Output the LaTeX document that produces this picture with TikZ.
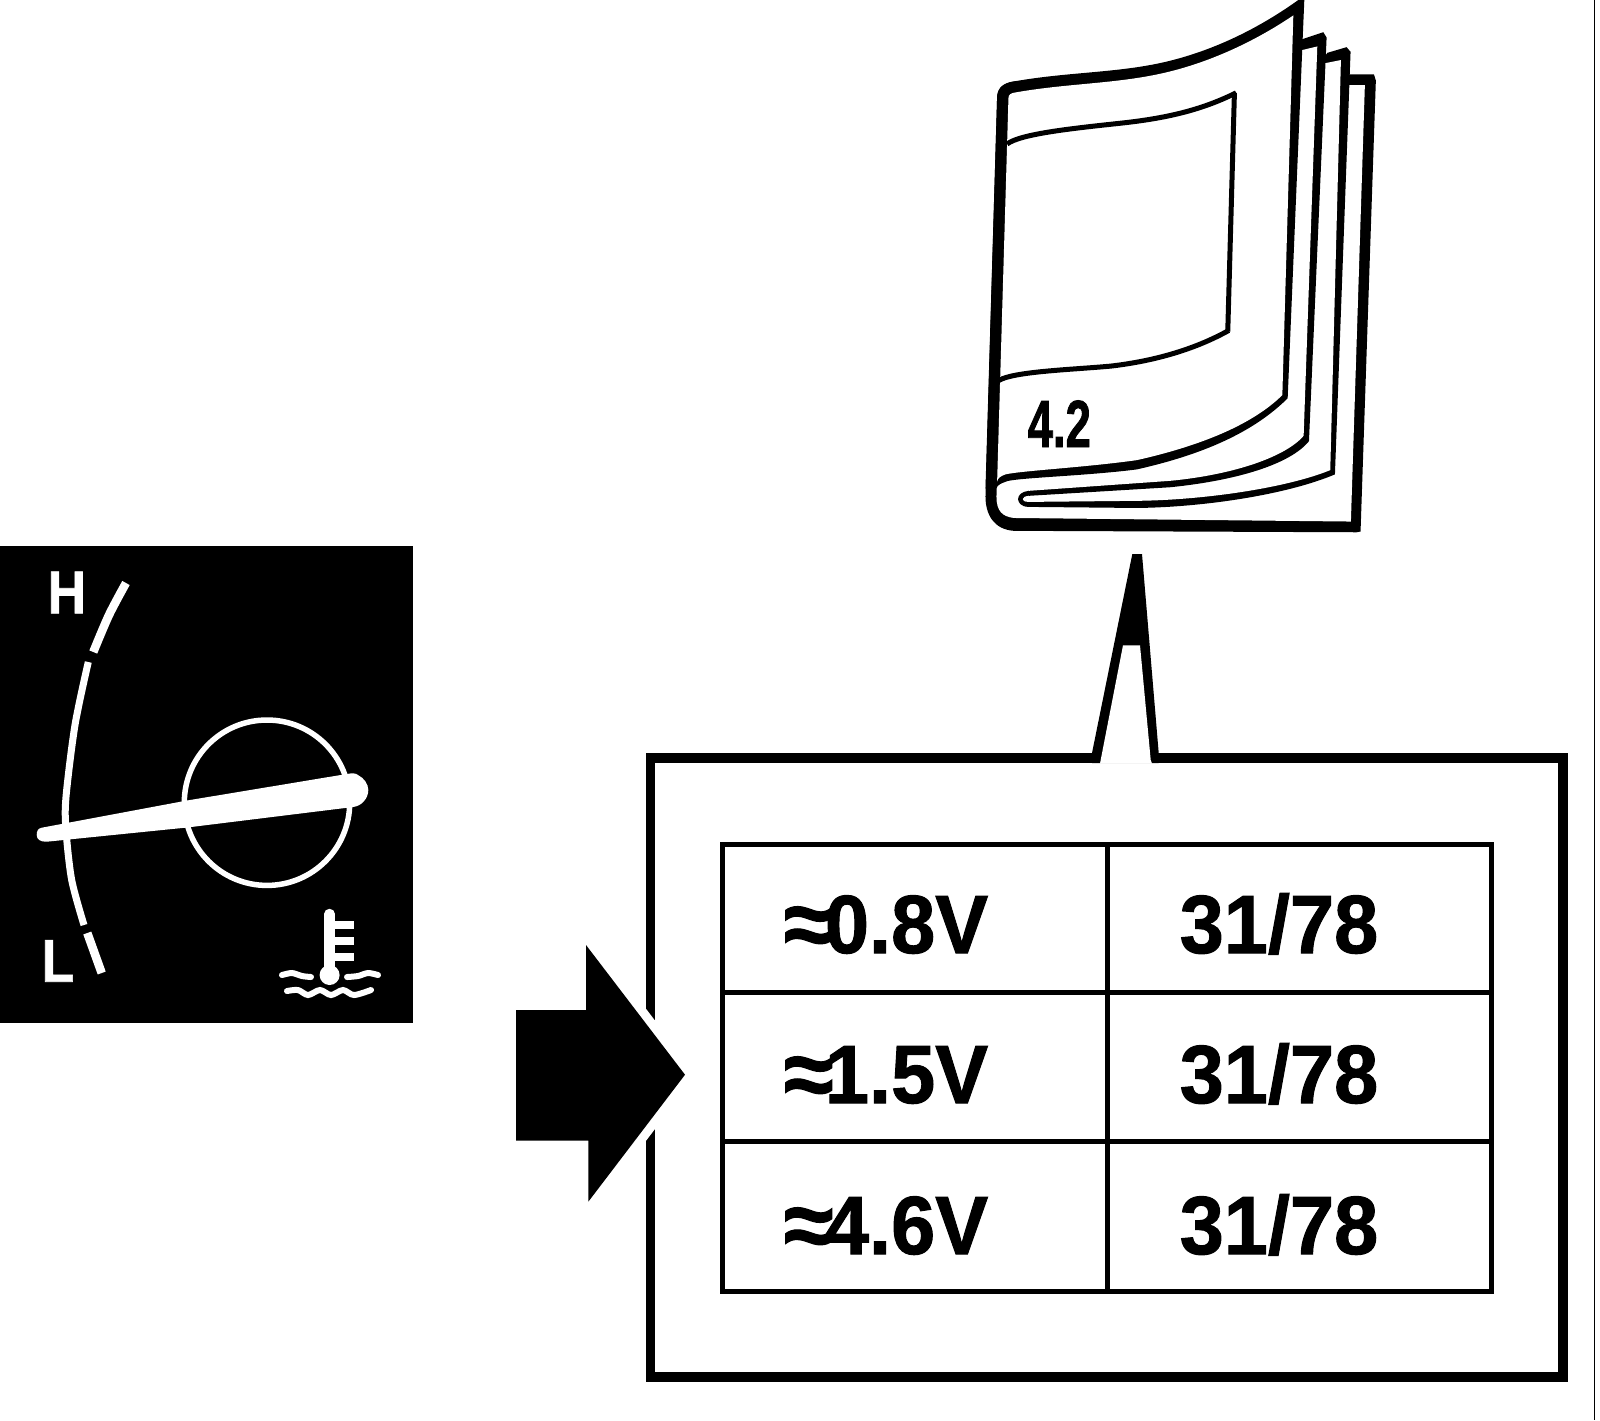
\documentclass[tikz,border=0pt]{standalone}
\usepackage{fontspec}
\setmainfont{Liberation Sans}
\newfontfamily\cellFont[FakeStretch=0.96,FakeBold=1.2,UprightFont=* Bold]{Liberation Sans}
\newfontfamily\gaugeFont[FakeStretch=0.88,FakeBold=1,UprightFont=* Bold]{Liberation Sans}
\newfontfamily\bookFont[FakeStretch=0.68,FakeBold=1.2,UprightFont=* Bold]{Liberation Sans}
\usetikzlibrary{calc}
\newcommand{\approxSign}{\lower1pt\hbox{\fontsize{27}{28}\selectfont ≈}\kern-2.5pt}
\tikzset{
	cell_text/.style={anchor=base west,inner sep=0pt,font=\cellFont\fontsize{23.5}{28}\selectfont},
	gauge_text/.style={anchor=base west,inner sep=0pt,white,font=\gaugeFont\fontsize{17.2}{20}\selectfont},
	table_line/.style={line width=0.05cm},
	dial_line/.style={white,line width=0.085cm},
	wave_line/.style={white,line width=0.06cm,line cap=round}
}

\begin{document}
\begin{tikzpicture}[x=0.01cm,y=-0.01cm]
	\newcommand{\tableLeft}{722.5}
	\newcommand{\tableRight}{1491.7}
	\newcommand{\tableMiddle}{1107}
	\useasboundingbox (0,0) rectangle (1600,1420);
	\draw[line width=0.015cm] (1594.5,0) -- (1594.5,1420);

	% gauge
	\fill[black] (0,546) rectangle (413,1023);
	\draw[dial_line] plot[smooth] coordinates {(126,583) (109,615) (93.3,652)};
	\draw[dial_line,line width=0.07cm] plot[smooth] coordinates {(88.3,662) (75,725) (66,797) (66,830) (71.7,880) (84,925)};
	\draw[dial_line] (87.3,933) -- (101.7,973);
	\draw[white,line width=0.055cm] (267,802.7) circle (82.7);
	\fill[white] (41.7,827.7) -- (187,800.5) -- (346.7,774) .. controls (352,773) and (356,773) .. (358,775)
		.. controls (364,778) and (368.3,784) .. (368.3,790) .. controls (368.3,798) and (362,806) .. (353,807)
		-- (187,827.5) -- (46.7,841.7) .. controls (40,842) and (36.7,839) .. (36.7,835) .. controls (36.7,831) and (38,828.5) .. (41.7,827.7) -- cycle;
	\node[gauge_text] (high_label) at (47,613.3) {H};
	\node[gauge_text] (low_label) at (41,981.7) {L};

	% thermometer
	\draw[white,line width=0.105cm,line cap=round] (329.6,914) -- (329.6,975);
	\fill[white] (329.6,975) circle (10);
	\foreach \tickY in {925,941,956.5}
		\draw[white,line width=0.08cm] (329.6,\tickY) -- (354,\tickY);
	\draw[wave_line] plot[smooth] coordinates {(282,975) (292,973) (302,976) (311,977)};
	\draw[wave_line] plot[smooth] coordinates {(347,977) (358,976) (368,973) (378,975)};
	\draw[wave_line] plot[smooth] coordinates {(287,991) (298,990) (308,995) (320,990) (331,995) (343,990) (354,995) (371,990)};

	% book, numbers as in a page sized 1260 wide
	\begin{scope}[shift={(970.5,0)},x=0.003325cm,y=-0.00357cm]
		% back page
		\fill[black] (1145,208) -- (1212,208) -- (1218,225) -- (1172,1488) -- (1160,1490) -- (130,1486)
			.. controls (70,1482) and (45,1440) .. (45,1390) -- (80,270) .. controls (82,245) and (100,232) .. (130,228) -- cycle;
		\fill[white] (1135,238) -- (1185,238) -- (1143,1460) -- (130,1450)
			.. controls (95,1446) and (78,1430) .. (78,1390) -- (114,270) -- cycle;
		% third page
		\fill[black] (1072,148) -- (1130,132) -- (1142,145) -- (1095,1328) .. controls (950,1385) and (700,1420) .. (500,1422)
			-- (175,1419) .. controls (150,1419) and (143,1405) .. (143,1397) .. controls (143,1385) and (155,1376) .. (175,1374) -- cycle;
		\fill[white] (1060,178) -- (1113,168) -- (1081,1316) .. controls (950,1366) and (700,1400) .. (500,1402)
			-- (175,1405) .. controls (160,1405) and (157,1400) .. (157,1397) .. controls (157,1392) and (165,1389) .. (175,1388) -- cycle;
		% second page
		\fill[black] (990,112) -- (1060,90) -- (1070,105) -- (1017,1235) .. controls (960,1300) and (800,1345) .. (600,1364)
			-- (175,1388) -- (175,1374) -- cycle;
		\fill[white] (988,142) -- (1042,130) -- (1001,1220) .. controls (950,1276) and (800,1328) .. (600,1346)
			-- (175,1374) -- (110,1000) -- cycle;
		% front page
		\fill[black] (130,228) .. controls (300,200) and (450,205) .. (600,170) .. controls (750,135) and (880,70) .. (985,0)
			-- (1003,0) -- (953,1115) .. controls (850,1210) and (700,1272) .. (500,1314) .. controls (350,1332) and (150,1337) .. (110,1347)
			.. controls (95,1352) and (80,1357) .. (78,1367) -- (45,1367) -- (80,270) .. controls (82,245) and (100,232) .. (130,228) -- cycle;
		\fill[white] (140,258) .. controls (300,232) and (450,235) .. (600,200) .. controls (750,165) and (880,100) .. (970,43)
			-- (937,1106) .. controls (850,1186) and (700,1246) .. (500,1288) .. controls (350,1308) and (150,1318) .. (105,1328)
			.. controls (90,1333) and (82,1338) .. (80,1348) -- (114,275) .. controls (114,265) and (120,260) .. (140,258) -- cycle;
		% window
		\draw[line width=0.05cm] (110,403) .. controls (150,375) and (300,360) .. (450,345) .. controls (600,330) and (700,305) .. (798,260);
		\draw[line width=0.05cm] (793,260) -- (773,928);
		\draw[line width=0.05cm] (776,925) .. controls (680,975) and (560,1010) .. (420,1025) .. controls (300,1035) and (130,1040) .. (85,1065);
	\end{scope}
	\node[anchor=base west,inner sep=0pt,font=\bookFont\fontsize{19}{22}\selectfont] (book_number) at (1027,447) {4.2};

	% box with pointer up to the book
	\draw[line width=0.095cm] (650.5,758) rectangle (1563,1377);
	\fill[black] (1092,753) -- (1132.3,554) -- (1142,554) -- (1158.7,753) -- (1158.7,763) -- (1092,763) -- cycle;
	\fill[white] (1123,645.3) -- (1140,645.3) -- (1150.7,760) -- (1152,763.5) -- (1100,763.5) -- cycle;

	% table
	\draw[table_line] (\tableLeft,844.5) rectangle (\tableRight,1291);
	\draw[table_line] (\tableMiddle,844.5) -- (\tableMiddle,1291);
	\draw[table_line] (\tableLeft,992.7) -- (\tableRight,992.7);
	\draw[table_line] (\tableLeft,1141.8) -- (\tableRight,1141.8);
	\foreach \rowNum/\rowBase/\voltText in {1/953/0.8,2/1103/1.5,3/1254/4.6} {
		\node[cell_text] (volt_\rowNum) at (783,\rowBase) {\approxSign\voltText V};
		\node[cell_text] (pin_\rowNum) at (1179,\rowBase) {31/78};
	}

	% arrow into the box
	\fill[black,preaction={draw=white,line width=0.18cm}] (516,1010) -- (586,1010) -- (586,945) -- (685,1074.7)
		-- (588.3,1201.7) -- (588.3,1140.7) -- (516,1140.7) -- cycle;
\end{tikzpicture}
\end{document}
